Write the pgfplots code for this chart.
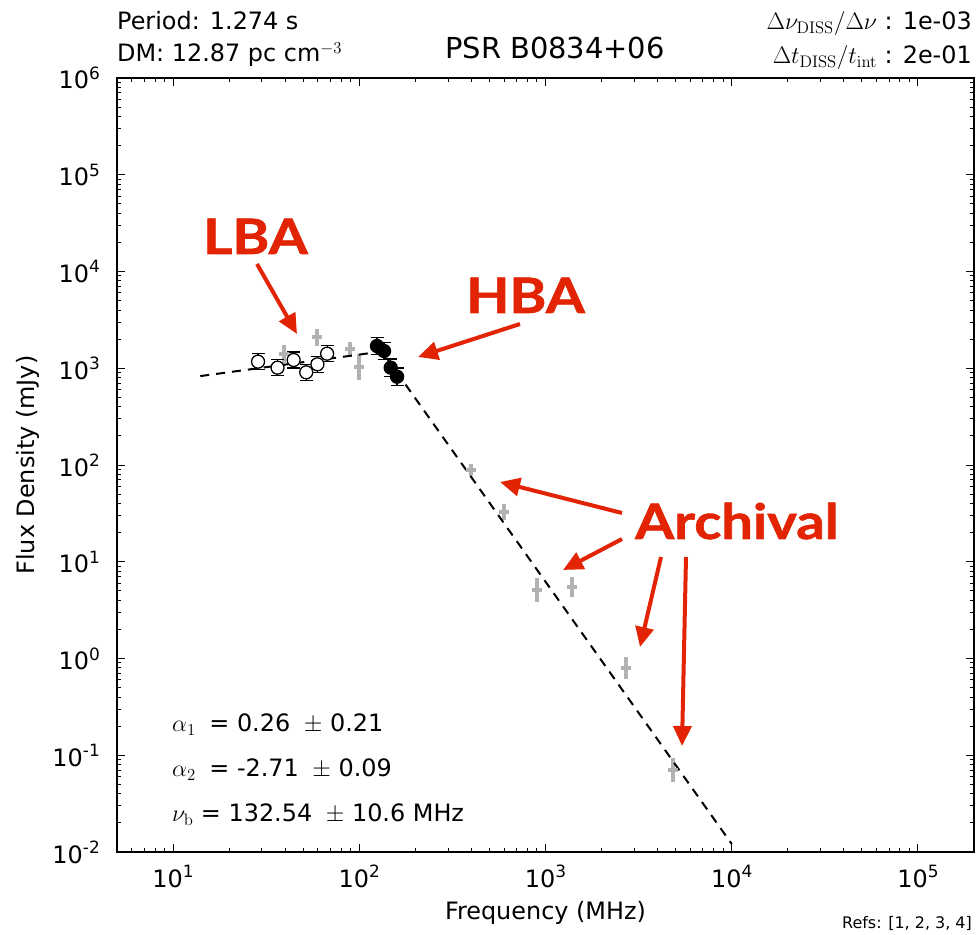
\RequirePackage{fix-cm}
\documentclass[border=0pt]{standalone}
\usepackage[no-math]{fontspec}
\setmainfont{DejaVu Sans}
\newfontfamily\annfont{Lato}
\usepackage{pgfplots}
\pgfplotsset{compat=1.18}
\usetikzlibrary{arrows.meta}
\definecolor{annred}{RGB}{226,36,4}
\definecolor{archgray}{RGB}{178,178,178}
\newcommand\tp[1]{10\raisebox{9.5bp}{\fontsize{17}{17}\selectfont #1}}
\newcommand\fs[1]{\fontsize{#1}{#1}\selectfont}
\newcommand\ann[1]{\scalebox{1.15}[1]{\annfont\bfseries\addfontfeatures{FakeBold=1.2}\fs{49}#1}}

\pgfplotstableread{
f s ep em
39.6 1393 333 269
59.2 2089 470 384
89.3 1570 306 256
99.7 1038 376 276
396 88.8 14.8 12.7
597 32.9 6.9 5.7
895 5.1 1.68 1.26
1390 5.5 1.47 1.16
2690 0.79 0.237 0.182
4830 0.0704 0.0244 0.0181
}\archival

\pgfplotstableread{
f s ep em
28.6 1170 247 204
36.4 1014 214 176
44.4 1217 257 212
51.9 908 192 158
59.6 1099 232 191
67.2 1414 298 246
}\lba

\pgfplotstableread{
f s ep em
124.5 1698 391 318
135.8 1507 347 282
147.5 1014 233 190
159.6 818 188 153
}\hba

\begin{document}
\begin{tikzpicture}
\begin{axis}[
  at={(0,0)}, anchor=south west,
  scale only axis, width=857bp, height=774bp,
  xmode=log, ymode=log,
  xmin=5, xmax=2e5, ymin=1e-2, ymax=1e6,
  xtick={10,100,1000,10000,100000},
  xticklabels={\tp{1},\tp{2},\tp{3},\tp{4},\tp{5}},
  ytick={1e-2,1e-1,1,10,100,1000,1e4,1e5,1e6},
  yticklabels={\tp{-2},\tp{-1},\tp{0},\tp{1},\tp{2},\tp{3},\tp{4},\tp{5},\tp{6}},
  minor xtick={6,7,8,9,20,30,40,50,60,70,80,90,200,300,400,500,600,700,800,900,2000,3000,4000,5000,6000,7000,8000,9000,20000,30000,40000,50000,60000,70000,80000,90000},
  minor ytick={0.02,0.03,0.04,0.05,0.06,0.07,0.08,0.09,0.2,0.3,0.4,0.5,0.6,0.7,0.8,0.9,2,3,4,5,6,7,8,9,20,30,40,50,60,70,80,90,200,300,400,500,600,700,800,900,2000,3000,4000,5000,6000,7000,8000,9000,20000,30000,40000,50000,60000,70000,80000,90000,200000,300000,400000,500000,600000,700000,800000,900000},
  major tick length=8bp, minor tick length=4bp,
  every tick/.style={black, line width=1bp},
  axis line style={line width=1.5bp},
  xticklabel style={font=\fs{24}, anchor=base, inner sep=0pt, yshift=-35bp},
  yticklabel style={font=\fs{24}, anchor=base east, inner sep=0pt, xshift=-17bp, yshift=-11bp},
]
\addplot[archgray, only marks, mark=-, mark size=5bp, mark options={line width=4bp, archgray},
  error bars/.cd, y dir=both, y explicit, error mark=none,
  error bar style={line width=4bp, archgray}]
  table[x=f, y=s, y error plus=ep, y error minus=em] {\archival};
\addplot[black, line width=2bp, dash pattern=on 9bp off 7bp]
  coordinates {(14,830) (132.54,1490) (10000,0.0121)};
\addplot[black, only marks, mark=*, mark size=6.5bp, mark options={fill=white, draw=black, line width=1.3bp},
  error bars/.cd, y dir=both, y explicit, error mark=|,
  error bar style={line width=1.2bp, black},
  error mark options={mark size=6.5bp, line width=1.2bp, black}]
  table[x=f, y=s, y error plus=ep, y error minus=em] {\lba};
\addplot[black, only marks, mark=*, mark size=6.5bp, mark options={fill=black, draw=black, line width=1.3bp},
  error bars/.cd, y dir=both, y explicit, error mark=|,
  error bar style={line width=1.2bp, black},
  error mark options={mark size=6.5bp, line width=1.2bp, black}]
  table[x=f, y=s, y error plus=ep, y error minus=em] {\hba};
\end{axis}
\begin{scope}[x=1bp, y=-1bp, shift={(-117bp,852bp)}]
  \node[anchor=base west, inner sep=0pt] at (117,30) {\fs{24}Period: 1.274 s};
  \node[anchor=base west, inner sep=0pt] at (117,62) {\fs{24}DM: 12.87 pc cm$^{-3}$};
  \node[anchor=base, inner sep=0pt] at (555,59) {\fs{29}PSR B0834+06};
  \node[anchor=base east, inner sep=0pt] at (972,30) {\fs{24}$\Delta\nu_{\mathrm{DISS}}/\Delta\nu$ : 1e-03};
  \node[anchor=base east, inner sep=0pt] at (972,64) {\fs{24}$\Delta t_{\mathrm{DISS}}/t_{\mathrm{int}}$ : 2e-01};
  \node[anchor=base west, inner sep=0pt] at (172,732) {\fs{24}$\alpha_1$\hspace{6bp} = 0.26 \hspace{6bp}$\pm$ 0.21};
  \node[anchor=base west, inner sep=0pt] at (172,777) {\fs{24}$\alpha_2$\hspace{6bp} = -2.71 \hspace{6bp}$\pm$ 0.09};
  \node[anchor=base west, inner sep=0pt] at (172,822) {\fs{24}$\nu_{\mathrm{b}}$ = 132.54 \hspace{6bp}$\pm$ 10.6 MHz};
  \node[anchor=base, inner sep=0pt] at (545.5,919) {\fs{24}Frequency (MHz)};
  \node[anchor=base, inner sep=0pt, rotate=90] at (35,465) {\fs{24}Flux Density (mJy)};
  \node[anchor=base east, inner sep=0pt] at (972,928) {\fs{16}Refs: [1, 2, 3, 4]};
  \node[anchor=base west, inner sep=0pt, text=annred] at (203,254) {\ann{LBA}};
  \node[anchor=base west, inner sep=0pt, text=annred] at (466,313) {\ann{HBA}};
  \node[anchor=base west, inner sep=0pt, text=annred] at (635,539) {\ann{Archival}};
  \begin{scope}[annred, line width=4bp, -{Triangle[length=20bp, width=18bp]}]
    \draw (257,264) -- (297,334);
    \draw (520,324) -- (418,357);
    \draw (622,513) -- (500,482);
    \draw (622,539) -- (563,570);
    \draw (661,557) -- (640,647);
    \draw (686,557) -- (682,746);
  \end{scope}
  \pgfresetboundingbox
  \path[use as bounding box] (0,0) rectangle (979,935);
\end{scope}
\end{tikzpicture}
\end{document}
